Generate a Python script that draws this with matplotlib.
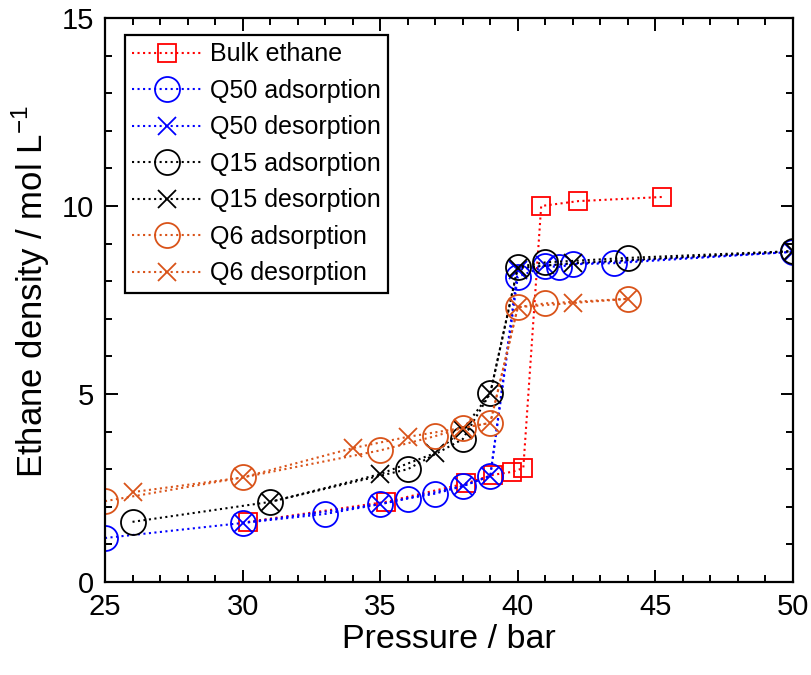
import matplotlib
matplotlib.use("Agg")
import matplotlib.pyplot as plt
from matplotlib.ticker import MultipleLocator

plt.rcParams['font.family'] = ['Liberation Sans', 'DejaVu Sans']

# Bulk ethane density
bulk_p = [30.2, 35.2, 38.1, 39.1, 39.8, 40.2, 40.85, 42.2, 45.25]
bulk_rho = [1.6, 2.13, 2.62, 2.85, 2.93, 3.03, 10.0, 10.13, 10.24]

# Q50
q50_ads_p = [25, 30, 33, 35, 36, 37, 38, 39, 40, 41, 41.5, 42, 43.5, 50]
q50_ads_rho = [1.17, 1.57, 1.81, 2.07, 2.22, 2.35, 2.55, 2.82, 8.12, 8.4, 8.38, 8.45, 8.48, 8.78]
q50_des_p = [30, 35, 38, 39, 40, 41, 50]
q50_des_rho = [1.57, 2.07, 2.55, 2.82, 8.3, 8.42, 8.78]

# Q15
q15_ads_p = [26, 31, 36, 38, 39, 40, 41, 44, 50]
q15_ads_rho = [1.6, 2.13, 3.0, 3.8, 5.02, 8.38, 8.5, 8.62, 8.8]
q15_des_p = [31, 35, 37, 38, 39, 40, 42, 50]
q15_des_rho = [2.13, 2.87, 3.43, 4.05, 5.02, 8.35, 8.48, 8.8]

# Q6
q6_ads_p = [25, 30, 35, 37, 38, 39, 40, 41, 44]
q6_ads_rho = [2.15, 2.78, 3.5, 3.88, 4.1, 4.23, 7.31, 7.41, 7.53]
q6_des_p = [26, 30, 34, 36, 38, 39, 40, 42, 44]
q6_des_rho = [2.39, 2.78, 3.56, 3.86, 4.1, 4.23, 7.31, 7.42, 7.53]

orange = (0.85, 0.325, 0.098)

fig = plt.figure(figsize=(8.12, 6.75), dpi=100)
ax = fig.add_axes([105 / 812, 1 - 582 / 675, (793 - 105) / 812, (582 - 18) / 675])

circ = dict(marker='o', markersize=18, markerfacecolor='none', markeredgewidth=1.3,
            linestyle=':', linewidth=1.5)
cross = dict(marker='x', markersize=13, markeredgewidth=1.3, linestyle=':', linewidth=1.5)

ax.plot(bulk_p, bulk_rho, color='red', marker='s', markersize=13, markerfacecolor='none',
        markeredgewidth=1.3, linestyle=':', linewidth=1.5, label='Bulk ethane')
ax.plot(q50_ads_p, q50_ads_rho, color='blue', label='Q50 adsorption', **circ)
ax.plot(q50_des_p, q50_des_rho, color='blue', label='Q50 desorption', **cross)
ax.plot(q15_ads_p, q15_ads_rho, color='black', label='Q15 adsorption', **circ)
ax.plot(q15_des_p, q15_des_rho, color='black', label='Q15 desorption', **cross)
ax.plot(q6_ads_p, q6_ads_rho, color=orange, label='Q6 adsorption', **circ)
ax.plot(q6_des_p, q6_des_rho, color=orange, label='Q6 desorption', **cross)

ax.set_xlim(25, 50)
ax.set_ylim(0, 15)
ax.xaxis.set_major_locator(MultipleLocator(5))
ax.xaxis.set_minor_locator(MultipleLocator(1))
ax.yaxis.set_major_locator(MultipleLocator(5))
ax.yaxis.set_minor_locator(MultipleLocator(1))
ax.tick_params(which='both', direction='in', top=True, right=True, width=1.4,
               labelsize=21, pad=8)
ax.tick_params(which='major', length=9)
ax.tick_params(which='minor', length=5)
for s in ax.spines.values():
    s.set_linewidth(1.6)

ax.set_xlabel('Pressure / bar', fontsize=24.5, labelpad=2)
ax.set_ylabel('Ethane density / mol L$^{\\mathregular{-1}}$', fontsize=25, labelpad=1)
ax.yaxis.set_label_coords(-0.077, 0.515)

leg = ax.legend(loc='upper left', bbox_to_anchor=(0.029, 0.97), fontsize=18,
                frameon=True, fancybox=False, edgecolor='black', framealpha=1,
                handlelength=2.8, handletextpad=0.3, labelspacing=0.5,
                borderpad=0.3, borderaxespad=0)
leg.get_frame().set_linewidth(1.6)

fig.savefig('out.png', dpi=100)
